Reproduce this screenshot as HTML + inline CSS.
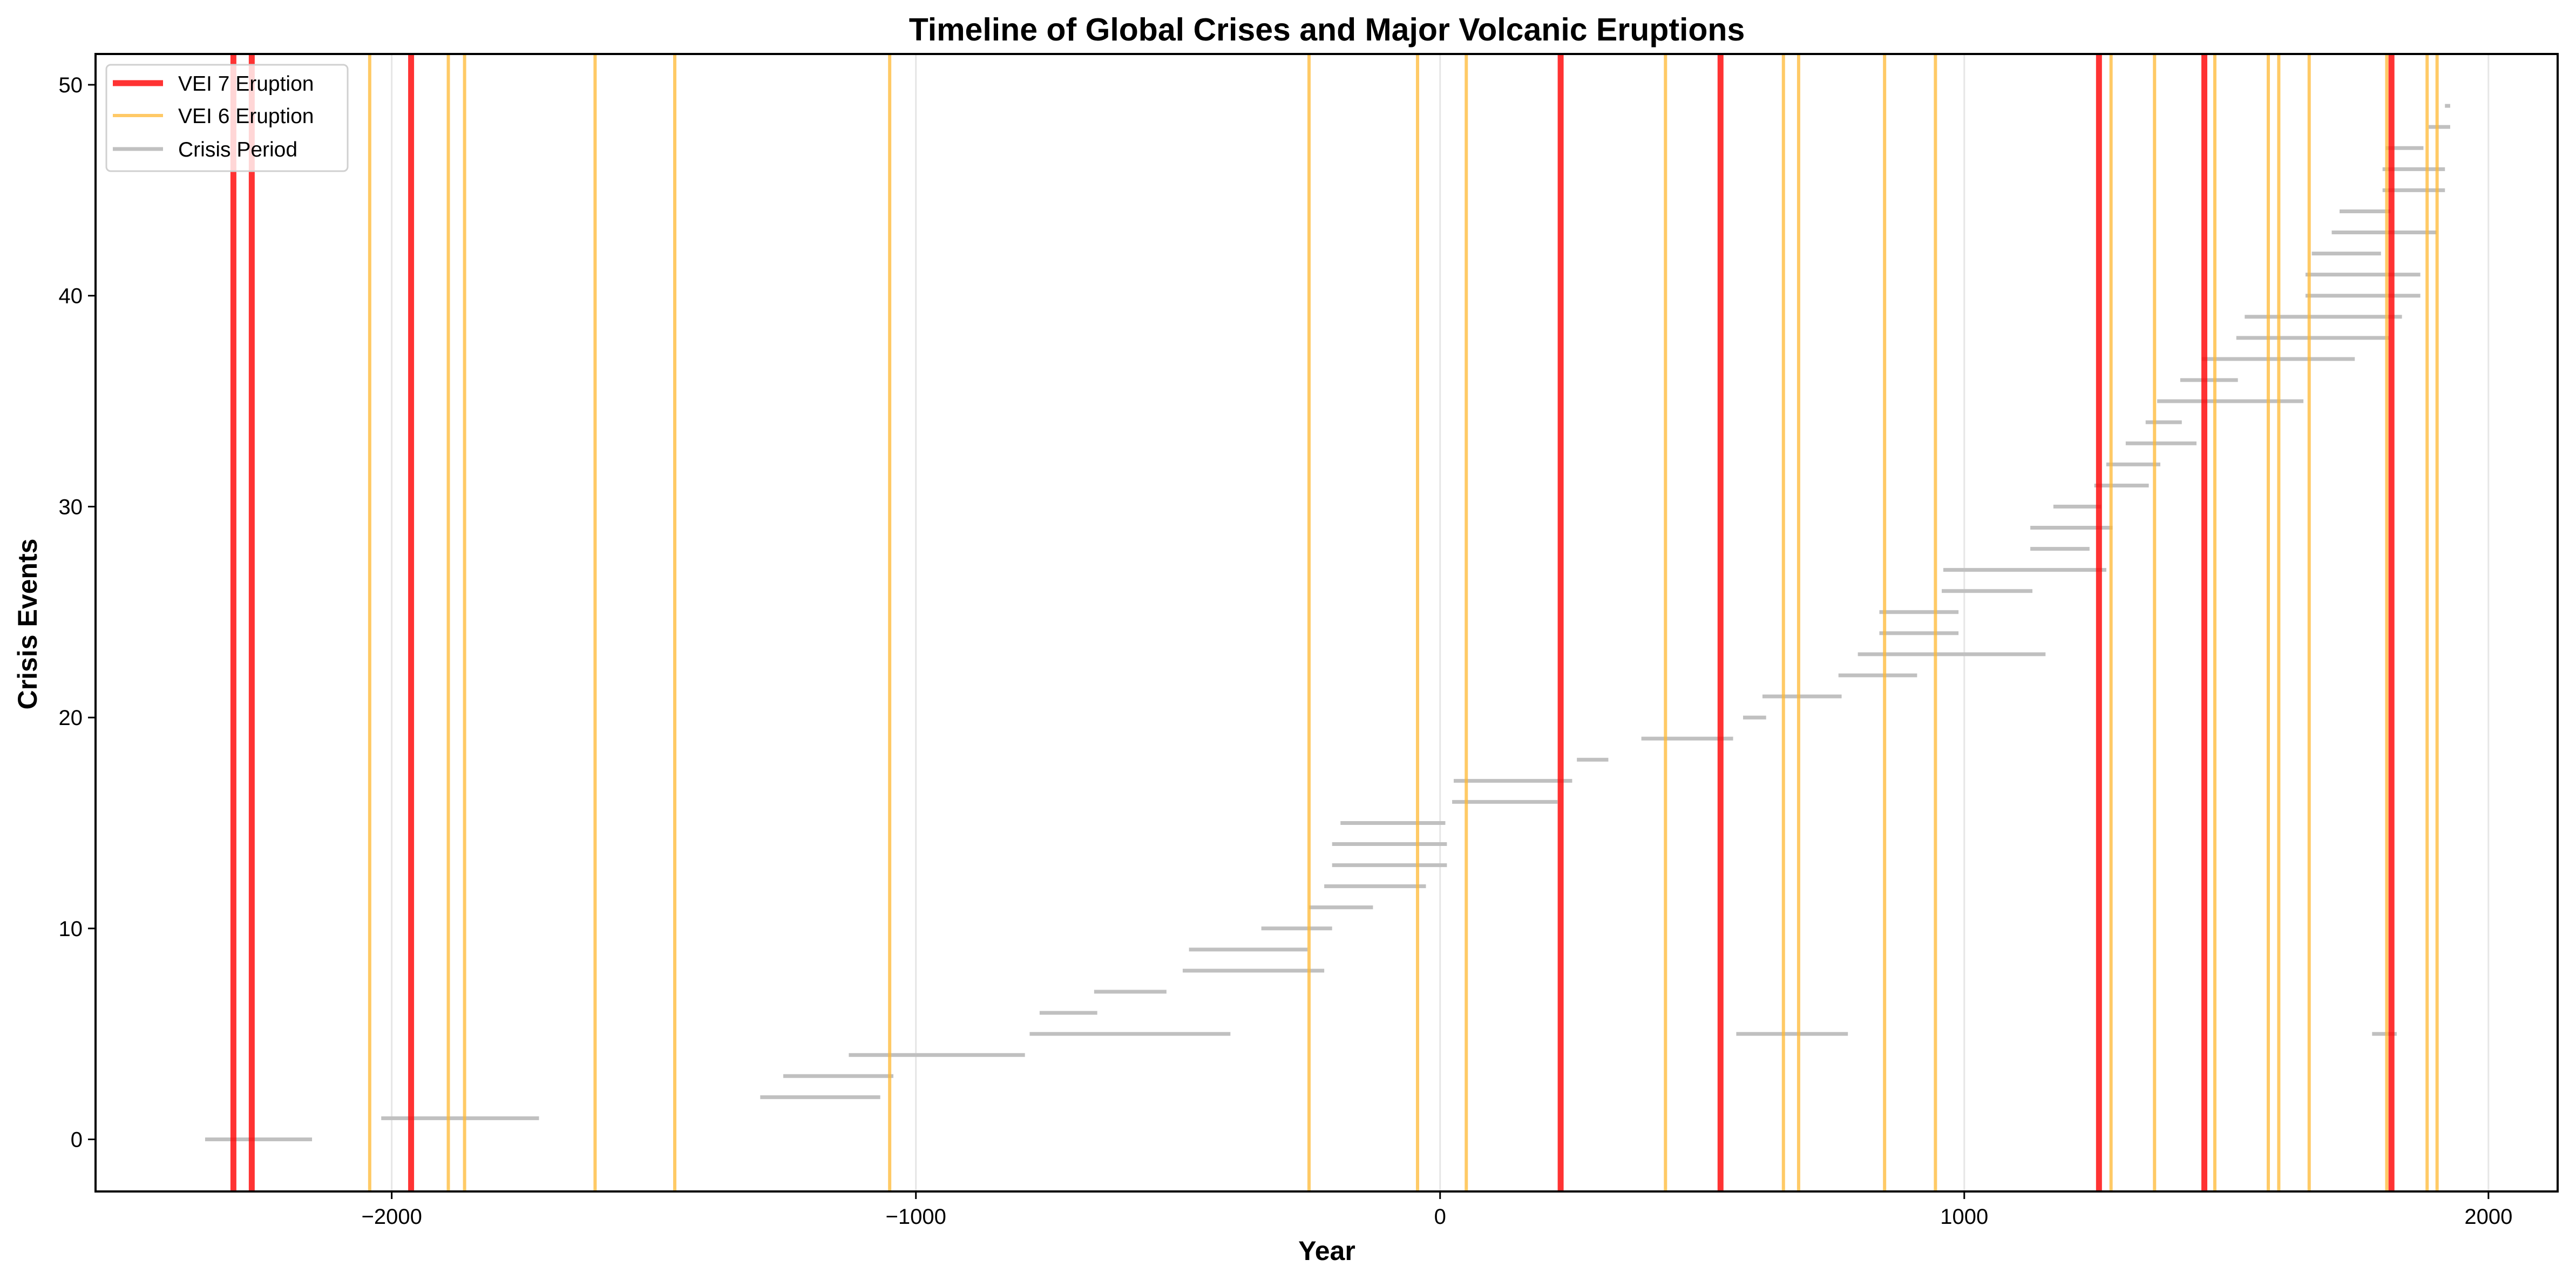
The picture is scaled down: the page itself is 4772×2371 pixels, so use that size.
<!DOCTYPE html>
<html><head><meta charset="utf-8"><style>
html,body{margin:0;padding:0;background:#fff;}
svg{display:block;font-family:"Liberation Sans","DejaVu Sans",sans-serif;}
</style></head><body>
<svg id="chart" width="4772" height="2371" viewBox="0 0 4772 2371" xmlns="http://www.w3.org/2000/svg">
<rect x="0" y="0" width="4772" height="2371" fill="#fff"/>
<text x="2458" y="75" text-anchor="middle" font-size="59" font-weight="bold">Timeline of Global Crises and Major Volcanic Eruptions</text>
<g id="grid"></g>
<g id="marks"></g>
<g id="axes"></g>
<text x="2458" y="2334" text-anchor="middle" font-size="50" font-weight="bold">Year</text>
<text x="0" y="0" transform="translate(68,1156) rotate(-90)" text-anchor="middle" font-size="50" font-weight="bold">Crisis Events</text>
<g>
<rect x="197" y="120" width="447" height="197" rx="8" fill="#fff" fill-opacity="0.8" stroke="#d0d0d0" stroke-width="3"/>
<line x1="209" y1="154" x2="302" y2="154" stroke="#ff3333" stroke-width="11"/>
<text x="330" y="168" font-size="39">VEI 7 Eruption</text>
<line x1="209" y1="214" x2="302" y2="214" stroke="#ffc966" stroke-width="6"/>
<text x="330" y="228" font-size="39">VEI 6 Eruption</text>
<line x1="209" y1="276" x2="302" y2="276" stroke="#c0c0c0" stroke-width="7"/>
<text x="330" y="290" font-size="39">Crisis Period</text>
</g>
</svg>
<script>
const vei7Years = [-2302, -2267, -1963, 230, 535, 1257, 1458, 1815];
const vei6Years = [-2042, -1892, -1861, -1612, -1460, -1050, -250, -43, 50, 430, 655, 684, 848, 945, 1280, 1363, 1478, 1580, 1600, 1658, 1806, 1883, 1902];
const crisisStart = [-2356,-2020,-1297,-1253,-1128,-783,-764,-660,-491,-479,-341,-250,-221,-206,-206,-190,23,26,261,384,578,615,760,797,838,838,957,960,1126,1126,1170,1248,1271,1308,1346,1368,1412,1453,1519,1535,1651,1651,1663,1701,1716,1798,1798,1804,1886,1917,565,1778];
const crisisEnd   = [-2152,-1719,-1068,-1043,-792,-400,-654,-522,-221,-253,-206,-128,-27,13,13,10,224,252,321,559,622,766,910,1155,989,989,1130,1271,1239,1283,1261,1352,1374,1443,1415,1647,1522,1745,1810,1835,1870,1870,1795,1901,1813,1917,1917,1876,1927,1927,778,1825];
const crisisLevel = [0,1,2,3,4,5,6,7,8,9,10,11,12,13,14,15,16,17,18,19,20,21,22,23,24,25,26,27,28,29,30,31,32,33,34,35,36,37,38,39,40,41,42,43,44,45,46,47,48,49,5,5];
const xTicks = [-2000, -1000, 0, 1000, 2000];
const xTickLabels = ["\u22122000", "\u22121000", "0", "1000", "2000"];
const yTicks = [0, 10, 20, 30, 40, 50];
const yTickLabels = ["0", "10", "20", "30", "40", "50"];

const NS = "http://www.w3.org/2000/svg";
const L = 177, R = 4738, T = 100, B = 2207;
const xMin = -2565, xMax = 2132, yMin = -2.47, yMax = 51.46;
function xs(v){ return L + (v - xMin) / (xMax - xMin) * (R - L); }
function ys(v){ return B - (v - yMin) / (yMax - yMin) * (B - T); }
function mk(tag, attrs, parent){
  const e = document.createElementNS(NS, tag);
  for (const k in attrs) e.setAttribute(k, attrs[k]);
  parent.appendChild(e);
  return e;
}
const grid = document.getElementById('grid');
const marks = document.getElementById('marks');
const axes = document.getElementById('axes');

xTicks.forEach((t, i) => {
  const g = mk('line', {x1: xs(t), x2: xs(t), y1: T, y2: B, stroke: '#e6e6e6', 'stroke-width': 3}, grid);
  
  
});
crisisStart.forEach((s, i) => {
  const e = mk('line', {x1: xs(s), x2: xs(crisisEnd[i]), y1: ys(crisisLevel[i]), y2: ys(crisisLevel[i]), stroke: '#c0c0c0', 'stroke-width': 7}, marks);
  
  
});
vei6Years.forEach(v => {
  const e = mk('line', {x1: xs(v), x2: xs(v), y1: T, y2: B, stroke: '#ffb833', 'stroke-opacity': 0.75, 'stroke-width': 6}, marks);
  
  
});
vei7Years.forEach(v => {
  const e = mk('line', {x1: xs(v), x2: xs(v), y1: T, y2: B, stroke: '#ff0000', 'stroke-opacity': 0.8, 'stroke-width': 11}, marks);
  
  
});
const frame = mk('rect', {x: L, y: T, width: R - L, height: B - T, fill: 'none', stroke: '#000', 'stroke-width': 4}, axes);


xTicks.forEach((t, i) => {
  const tk = mk('line', {x1: xs(t), x2: xs(t), y1: B, y2: B + 14, stroke: '#000', 'stroke-width': 3}, axes);
  
  
  const tx = mk('text', {x: xs(t), y: B + 60, 'text-anchor': 'middle', 'font-size': 40}, axes);
  tx.textContent = xTickLabels[i];
  
  
});
yTicks.forEach((t, i) => {
  const tk = mk('line', {x1: L - 14, x2: L, y1: ys(t), y2: ys(t), stroke: '#000', 'stroke-width': 3}, axes);
  
  
  const tx = mk('text', {x: L - 24, y: ys(t) + 14, 'text-anchor': 'end', 'font-size': 40}, axes);
  tx.textContent = yTickLabels[i];
  
  
});
</script>
</body></html>
